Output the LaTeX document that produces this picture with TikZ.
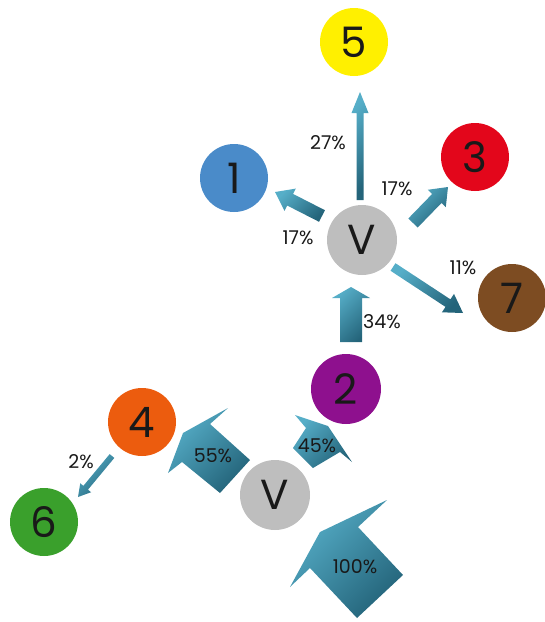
\documentclass[tikz,border=0pt]{standalone}
\usepackage{fontspec}
\setmainfont{Poppins}
\usetikzlibrary{calc}
\definecolor{arrlight}{RGB}{86,174,200}
\definecolor{arrdark}{RGB}{36,100,122}
\definecolor{cyellow}{RGB}{255,240,0}
\definecolor{cblue}{RGB}{74,139,201}
\definecolor{cred}{RGB}{227,6,27}
\definecolor{cgray}{RGB}{190,190,190}
\definecolor{cbrown}{RGB}{125,76,34}
\definecolor{cpurple}{RGB}{142,16,142}
\definecolor{corange}{RGB}{236,92,14}
\definecolor{cgreen}{RGB}{58,160,44}
\definecolor{txt}{RGB}{25,25,25}
\tikzset{
  ball/.style={circle, minimum size=68pt, inner sep=0pt, draw=none, text=txt,
    font=\fontsize{42}{42}\selectfont},
  pct/.style={inner sep=0pt, text=txt, font=\fontsize{19}{19}\selectfont},
  arrowshade/.style={top color=arrlight, bottom color=arrdark, shading angle=45, draw=none},
}
% #1 tail, #2 tip, #3 shaft half width, #4 head half width, #5 head length
\newcommand{\blockarr}[5]{%
  \path ($(#2)!#5!(#1)$) coordinate (bahb);
  \shade[arrowshade]
    ($(#1)!#3!90:(#2)$) -- ($(bahb)!#3!90:(#2)$) -- ($(bahb)!#4!90:(#2)$) --
    (#2) -- ($(bahb)!#4!-90:(#2)$) -- ($(bahb)!#3!-90:(#2)$) --
    ($(#1)!#3!-90:(#2)$) -- cycle;
}
\begin{document}
\begin{tikzpicture}[x=1pt,y=-1pt]
\useasboundingbox (0,0) rectangle (545,622);
% arrow end coordinates
\coordinate (a27s) at (360,200); \coordinate (a27e) at (360,92);
\coordinate (a1s) at (322,216);  \coordinate (a1e) at (275,192);
\coordinate (a3s) at (413,223);  \coordinate (a3e) at (448,187);
\coordinate (a7s) at (393,267);  \coordinate (a7e) at (463,313);
\coordinate (a34s) at (351,342); \coordinate (a34e) at (351,287);
\coordinate (a2s) at (112,456);  \coordinate (a2e) at (78,497);
\blockarr{a27s}{a27e}{3.5pt}{8.5pt}{21pt}
\blockarr{a1s}{a1e}{6.5pt}{12.5pt}{17pt}
\blockarr{a3s}{a3e}{6.5pt}{12.5pt}{16pt}
\blockarr{a7s}{a7e}{4.5pt}{11pt}{18pt}
\blockarr{a34s}{a34e}{11pt}{19pt}{11pt}
\blockarr{a2s}{a2e}{3pt}{7pt}{12pt}
% big arrows
\shade[arrowshade] (290,587) -- (320,532) -- (387,500) -- (358,527) -- (403,575) -- (357,618) -- (310,568) -- cycle;
\shade[arrowshade] (168,473) -- (183,433) -- (228,408) -- (210,424) -- (250,460) -- (220,493) -- (182,462) -- cycle;
\shade[arrowshade] (295,415) -- (328,426) -- (352,462) -- (340,452) -- (313,468) -- (293,448) -- (306,428) -- cycle;
% circles
\node[ball, fill=cyellow] (n5) at (354,42) {5};
\node[ball, fill=cblue] (n1) at (234,178) {1};
\node[ball, fill=cred] (n3) at (475,157) {3};
\node[ball, fill=cgray, minimum size=70pt] (vtop) at (362,240) {V};
\node[ball, fill=cbrown] (n7) at (512,298) {7};
\node[ball, fill=cpurple, minimum size=70pt] (n2) at (346,389) {2};
\node[ball, fill=corange] (n4) at (142,422) {4};
\node[ball, fill=cgreen] (n6) at (44,522) {6};
\node[ball, fill=cgray, minimum size=70pt] (vbot) at (275,495) {V};
% labels
\node[pct] (l27) at (328,143) {27\%};
\node[pct] (l17a) at (298,238) {17\%};
\node[pct] (l17b) at (397,189) {17\%};
\node[pct] (l11) at (463,268) {11\%};
\node[pct] (l34) at (382,322) {34\%};
\node[pct] (l2) at (81,462) {2\%};
\node[pct] (l55) at (213,456) {55\%};
\node[pct] (l45) at (317,446) {45\%};
\node[pct] (l100) at (355,567) {100\%};
\end{tikzpicture}
\end{document}
